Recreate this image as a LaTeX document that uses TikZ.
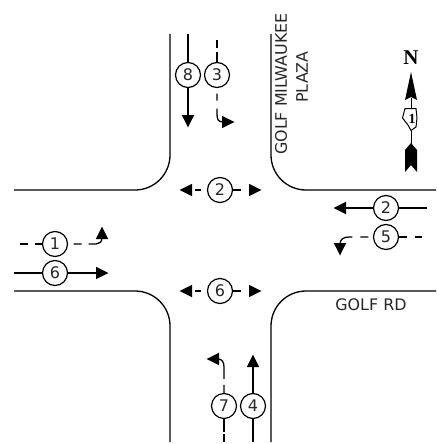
\documentclass[tikz,border=0pt]{standalone}
\usepackage{fontspec}
\setmainfont{DejaVu Sans}
\newfontfamily\serifbold{Liberation Serif}
\newcommand{\tipat}[2]{\fill[shift={(#1)},rotate=#2] (0.5,0) -- (-12,6.2) -- (-12,-6.2) -- cycle;}
\tikzset{
 road/.style={line width=1.3pt,black},
 lane/.style={line width=1.3pt,black},
 badge/.style={circle,draw,line width=1.2pt,fill=white,minimum size=25pt,inner sep=0pt,font=\fontsize{16}{16}\selectfont,text=black!85},
 lbl/.style={font=\fontsize{15.9}{16}\selectfont,text=black!85,inner sep=0pt}
}
\begin{document}
\begin{tikzpicture}[x=1pt,y=-1pt]
\useasboundingbox (0,0) rectangle (436,444);
% road edges
\draw[road] (170,34) -- (170,155) arc[start angle=0,end angle=90,radius=35] -- (14,190);
\draw[road] (271,34) -- (271,155) arc[start angle=180,end angle=90,radius=35] -- (436,190);
\draw[road] (14,291) -- (135,291) arc[start angle=-90,end angle=0,radius=35] -- (170,442);
\draw[road] (436,291) -- (306,291) arc[start angle=-90,end angle=-180,radius=35] -- (271,442);
% badges
\node[badge] (b8) at (188,75) {8};
\node[badge] (b3) at (217,75) {3};
\node[badge] (n2) at (220,190) {2};
\node[badge] (n6) at (220,291) {6};
\node[badge] (e2) at (386,208) {2};
\node[badge] (e5) at (386,237) {5};
\node[badge] (w1) at (55,244) {1};
\node[badge] (w6) at (55,273) {6};
\node[badge] (s7) at (224,406) {7};
\node[badge] (s4) at (253,406) {4};
% free ends
\coordinate (b8t) at (188,34); \coordinate (b8e) at (188,127); \coordinate (b8k) at (188,116);
\coordinate (b3t) at (217,40); \coordinate (b3e) at (234,122); \coordinate (b3k) at (223,122);
\coordinate (n2l) at (180,190); \coordinate (n2r) at (261,190);
\coordinate (n6l) at (180,291); \coordinate (n6r) at (261,291);
\coordinate (e2r) at (427,208); \coordinate (e2l) at (334,208); \coordinate (e2k) at (345,208);
\coordinate (e5r) at (422,237); \coordinate (e5e) at (340,255); \coordinate (e5k) at (340,244);
\coordinate (w1l) at (20,244); \coordinate (w1e) at (102,227); \coordinate (w1k) at (102,238);
\coordinate (w6l) at (14,273); \coordinate (w6r) at (108,273); \coordinate (w6k) at (97,273);
\coordinate (s4b) at (253,442); \coordinate (s4t) at (253,355); \coordinate (s4k) at (253,366);
\coordinate (s7b) at (224,442); \coordinate (s7e) at (207,359); \coordinate (s7k) at (218,359);
% solid lanes
\draw[lane] (b8t) -- (b8);
\draw[lane] (b8) -- (b8k);
\tipat{b8e}{270}
\draw[lane] (e2r) -- (e2);
\draw[lane] (e2) -- (e2k);
\tipat{e2l}{180}
\draw[lane] (w6l) -- (w6);
\draw[lane] (w6) -- (w6k);
\tipat{w6r}{0}
\draw[lane] (s4b) -- (s4);
\draw[lane] (s4) -- (s4k);
\tipat{s4t}{90}
% dashed lanes
\draw[lane,dash pattern=on 8pt off 4pt on 30pt] (b3t) -- (b3);
\draw[lane,dash pattern=on 0pt off 5.5pt on 7pt off 8pt on 100pt] (b3.south) -- (217,114) .. controls (217,119) and (218,122) .. (b3k);
\tipat{b3e}{0}
\draw[lane,dash pattern=on 0pt off 5.5pt on 6pt off 100pt] (n2.west) -- (n2l);
\tipat{n2l}{180}
\draw[lane,dash pattern=on 7.5pt off 100pt] (n2.east) -- (n2r);
\tipat{n2r}{0}
\draw[lane,dash pattern=on 0pt off 5.5pt on 6pt off 100pt] (n6.west) -- (n6l);
\tipat{n6l}{180}
\draw[lane,dash pattern=on 7.5pt off 100pt] (n6.east) -- (n6r);
\tipat{n6r}{0}
\draw[lane,dash pattern=on 7.5pt off 8pt on 8pt off 100pt] (e5.east) -- (e5r);
\draw[lane,dash pattern=on 0pt off 4.5pt on 8pt off 8pt on 100pt] (e5.west) -- (349,237) .. controls (344,237) and (340,239) .. (e5k);
\tipat{e5e}{270}
\draw[lane,dash pattern=on 8pt off 7pt on 30pt] (w1l) -- (w1);
\draw[lane,dash pattern=on 0pt off 5.5pt on 8pt off 7pt on 100pt] (w1.east) -- (96,244) .. controls (99,244) and (102,242) .. (w1k);
\tipat{w1e}{90}
\draw[lane,dash pattern=on 8pt off 2.5pt on 30pt] (s7b) -- (s7);
\draw[lane,dash pattern=on 8pt off 6pt on 100pt] (s7.north) -- (224,367) .. controls (224,362) and (222,359) .. (s7k);
\tipat{s7e}{180}
% labels
\node[lbl,rotate=90,anchor=west] (gm) at (281,155) {GOLF MILWAUKEE};
\node[lbl,rotate=90] (pl) at (302,77) {PLAZA};
\node[lbl] (gr) at (371,305) {GOLF RD};
% north arrow
\node[font=\serifbold\bfseries\fontsize{21}{21}\selectfont,inner sep=0pt] (north) at (411,58) {N};
\fill (411,72) -- (417,100) -- (411,97) -- (405,100) -- cycle;
\draw[line width=1pt] (411,98) -- (411,145);
\draw[line width=1pt,fill=white] (405,108.5) -- (416,108.5) -- (417,118) -- (416,127) -- (411,130.5) -- (408,125) -- (402.5,118) -- cycle;
\node[inner sep=0pt,font=\serifbold\bfseries\fontsize{14}{14}\selectfont] (ill) at (412,119) {1};
\fill (411,143) -- (417,150) -- (417,172) -- (411,165) -- (405,172) -- (405,150) -- cycle;
\end{tikzpicture}
\end{document}
